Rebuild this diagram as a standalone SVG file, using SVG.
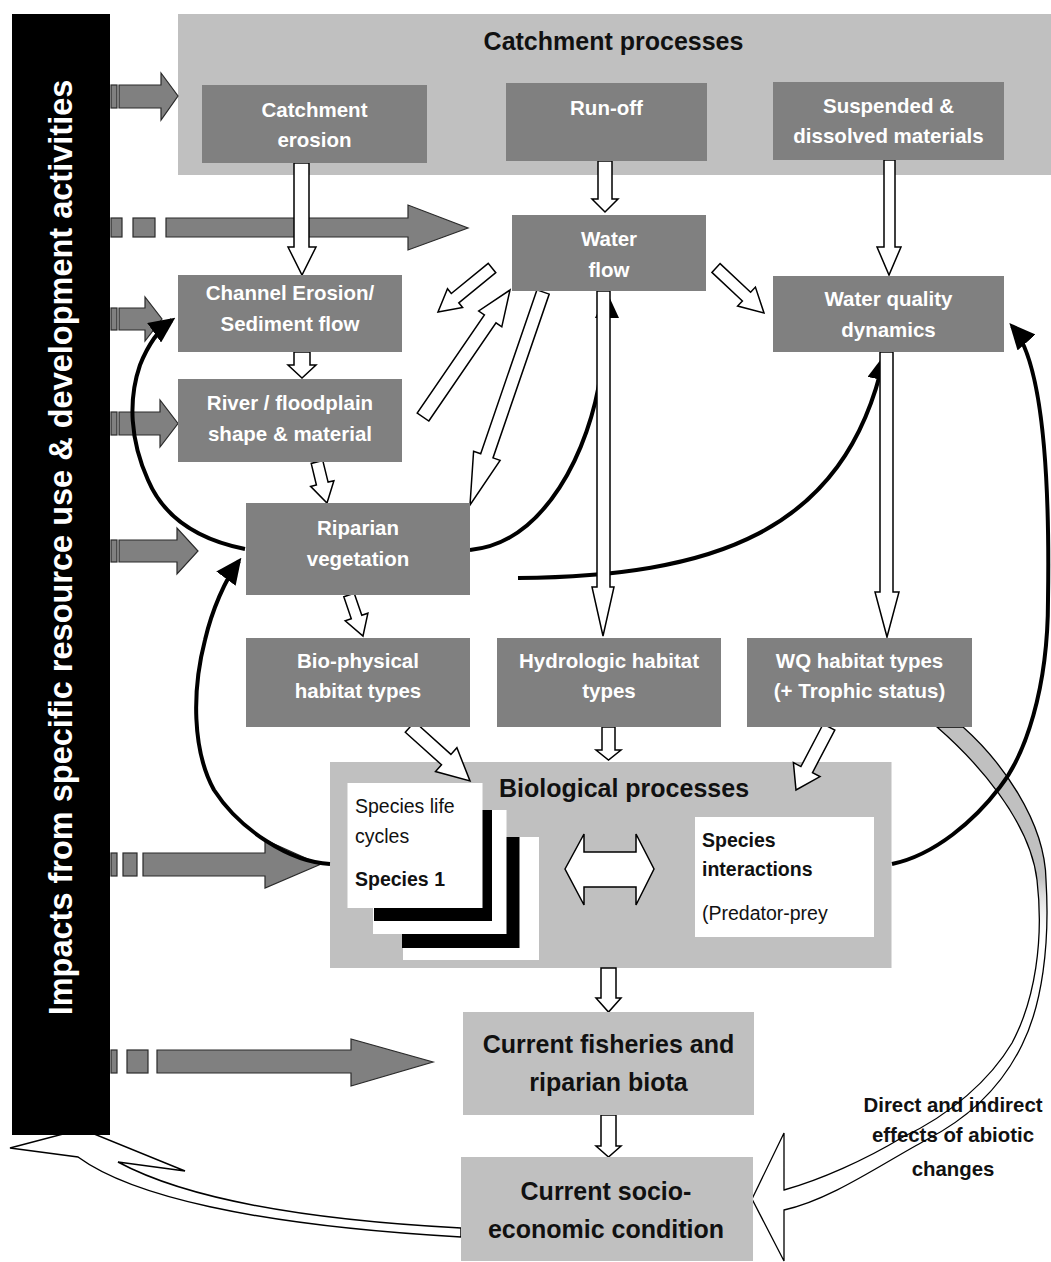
<svg xmlns="http://www.w3.org/2000/svg" width="1051" height="1262" viewBox="0 0 1051 1262">
<defs>
<style>
.lg{fill:#c0c0c0}
.dg{fill:#808080}
.wt{font-family:"Liberation Sans",Arial,sans-serif;font-weight:bold;font-size:20.5px;fill:#fff;text-anchor:middle}
.tt{font-family:"Liberation Sans",Arial,sans-serif;font-weight:bold;font-size:25px;fill:#111;text-anchor:middle}
.st{font-family:"Liberation Sans",Arial,sans-serif;font-size:19.5px;fill:#111}
.sb{font-weight:bold}
.lb{font-family:"Liberation Sans",Arial,sans-serif;font-weight:bold;font-size:20.4px;fill:#111;text-anchor:middle}
.ga{fill:#808080;stroke:#2a2a2a;stroke-width:1.2}
.wa{fill:#fff;stroke:#000;stroke-width:1.5;stroke-linejoin:miter}
.bc{fill:none;stroke:#000;stroke-width:4;marker-end:url(#ah)}
</style>
<marker id="ah" viewBox="0 0 26 24" refX="22" refY="12" markerWidth="26" markerHeight="24" markerUnits="userSpaceOnUse" orient="auto">
<path d="M0,0 L26,12 L0,24 Z" fill="#000"/>
</marker>
<linearGradient id="bandfill" gradientUnits="userSpaceOnUse" x1="0" y1="727" x2="0" y2="1000">
<stop offset="0" stop-color="#c0c0c0"/>
<stop offset="0.55" stop-color="#c0c0c0"/>
<stop offset="0.8" stop-color="#ffffff" stop-opacity="0"/>
</linearGradient>
</defs>
<rect width="1051" height="1262" fill="#fff"/>

<g id="catchment-processes">
<rect class="lg" x="178" y="14" width="873" height="161"/>
<text class="tt" x="613.5" y="50">Catchment processes</text>
</g>

<g id="biological-processes">
<rect class="lg" x="330" y="762" width="561.5" height="206"/>
<text class="tt" x="624" y="797">Biological processes</text>
<g id="species-life-cycles">
<rect x="403" y="837" width="136" height="123" fill="#fff"/>
<rect x="402" y="837" width="117.5" height="111" fill="#000"/>
<rect x="373" y="810" width="133.5" height="124" fill="#fff"/>
<rect x="374" y="810" width="118" height="111" fill="#000"/>
<rect x="347.5" y="783" width="135" height="125" fill="#fff"/>
<text class="st" x="355" y="813">Species life</text>
<text class="st" x="355" y="843">cycles</text>
<text class="st sb" x="355" y="886">Species 1</text>
</g>
<g id="species-interactions">
<rect x="695" y="817" width="179" height="120" fill="#fff"/>
<text class="st sb" x="702" y="847">Species</text>
<text class="st sb" x="702" y="876">interactions</text>
<text class="st" x="702" y="920">(Predator-prey</text>
</g>
</g>

<g id="connectors">
<!-- grey impact arrows -->
<rect class="ga" x="111" y="85" width="6" height="23"/>
<polygon class="ga" points="119,85 161,85 161,73 178,96 161,120 161,108 119,108"/>
<rect class="ga" x="111" y="218" width="11" height="19"/>
<rect class="ga" x="133" y="218" width="22" height="19"/>
<polygon class="ga" points="166,218 408,218 408,205 468,228 408,250 408,237 166,237"/>
<rect class="ga" x="111" y="308" width="6" height="22"/>
<polygon class="ga" points="119,308 145,308 145,297 162,319 145,341 145,330 119,330"/>
<rect class="ga" x="111" y="412" width="6" height="23"/>
<polygon class="ga" points="119,412 160,412 160,400 178,423.5 160,447 160,435 119,435"/>
<rect class="ga" x="111" y="540" width="6" height="22"/>
<polygon class="ga" points="119,540 177,540 177,528 198,551 177,574 177,562 119,562"/>
<rect class="ga" x="111" y="853" width="6" height="23"/>
<rect class="ga" x="123" y="853" width="14" height="23"/>
<polygon class="ga" points="143,853 265,853 265,840 320,864.5 265,888 265,876 143,876"/>
<rect class="ga" x="111" y="1050" width="6" height="23"/>
<rect class="ga" x="127" y="1050" width="21" height="23"/>
<polygon class="ga" points="157,1050 351,1050 351,1039 433,1062 351,1086 351,1073 157,1073"/>

<!-- socio-economic back to impacts -->
<path class="wa" d="M10,1148 L82,1129 L185,1171 L118,1162 C170,1190 270,1218 461,1228 L461,1237 C250,1225 130,1195 78,1157 Z"/>

<!-- abiotic effects band -->
<text class="lb" x="953" y="1112">Direct and indirect</text>
<text class="lb" x="953" y="1142">effects of abiotic</text>
<text class="lb" x="953" y="1176">changes</text>
<path d="M937,727 C975,760 1030,820 1037,880 C1044,940 1035,1000 1012,1043 C990,1080 950,1115 903,1137 C865,1160 820,1180 784,1190 L784,1133 L752,1199 L784,1261 L784,1210 C830,1200 880,1165 926,1140 C965,1120 1000,1090 1022,1045 C1042,1005 1050,945 1046,880 C1045,820 1000,760 963,727 Z" fill="url(#bandfill)" stroke="#000" stroke-width="1.3"/>

<!-- black feedback curves -->
<path class="bc" d="M470,550 C545,543 590,450 601,372 C605,345 607,330 607,296"/>
<path class="bc" d="M518,578 C710,576 845,535 884,358"/>
<path class="bc" d="M245,549 C200,540 165,520 148,480 C130,440 128,400 140,365 C148,345 158,330 172,320"/>
<path class="bc" d="M330,864 C290,862 240,830 214,790 C192,750 192,690 205,640 C212,610 225,580 239,561"/>
<path class="bc" d="M892,864 C935,855 975,820 1000,787 C1025,755 1048,690 1048,600 C1050,470 1042,360 1012,326"/>

<!-- white flow arrows -->
<polygon class="wa" points="294,163 309,163 309,247 316,247 302,275 288,247 294,247"/>
<polygon class="wa" points="294,352 310,352 310,365 316,365 302,378 288,365 294,365"/>
<polygon class="wa" points="598,161 612,161 612,199 618,199 605,212 592,199 598,199"/>
<polygon class="wa" points="884,160 895,160 895,247 901,247 889,275 877,247 884,247"/>
<polygon class="wa" points="597,291 610,291 610,587 614,587 603,636 592,587 597,587"/>
<polygon class="wa" points="880,352 893,352 893,592 899,592 887,637 875,592 880,592"/>
<polygon class="wa" points="602,727 615,727 615,750 621,750 608.5,760 596,750 602,750"/>
<polygon class="wa" points="601,968 616,968 616,998 621,998 608.5,1012 596,998 601,998"/>
<polygon class="wa" points="601,1115 616,1115 616,1146 621,1146 608.5,1157 596,1146 601,1146"/>
<polygon class="wa" points="488.2,263.4 451.3,293.5 447.5,288.8 438,312 462.6,307.4 458.8,302.8 495.8,272.7"/>
<polygon class="wa" points="428.8,421 496,322.9 501.8,326.8 510,290 478.7,311 484.4,314.9 417.2,413"/>
<polygon class="wa" points="536.9,289.9 480.7,453.7 473.6,451.3 470,505 500.1,460.3 493,457.9 549.2,294.1"/>
<polygon class="wa" points="711.9,272.4 742.4,301 737.6,306.1 764,313 755.4,287.1 750.6,292.2 720.1,263.6"/>
<polygon class="wa" points="311.2,463.4 316.4,485 310.6,486.4 327,503 333.9,480.7 328.1,482.1 322.8,460.6"/>
<polygon class="wa" points="343.8,596.8 351.3,618.8 345.2,620.9 363,636 367.9,613.2 361.8,615.3 354.2,593.2"/>
<polygon class="wa" points="405.3,732.2 441.5,764.8 435.5,771.5 470,781 456.9,747.7 450.9,754.4 414.7,721.8"/>
<polygon class="wa" points="823.2,724 800.9,766.6 793.4,762.6 796,790 820,776.6 812.5,772.6 834.8,730"/>
<polygon class="wa" points="565,869 584,834 584,852 636,852 636,834 654,869 636,905 636,887 584,887 584,905"/>
</g>

<g id="impacts">
<rect x="12" y="14" width="98" height="1121" fill="#000"/>
<text transform="translate(72,547.5) rotate(-90)" x="0" y="0" font-family="'Liberation Sans',Arial,sans-serif" font-weight="bold" font-size="32.5" fill="#fff" text-anchor="middle">Impacts from specific resource use &amp; development activities</text>
</g>

<g id="catchment-erosion">
<rect class="dg" x="202" y="85" width="225" height="78"/>
<text class="wt" x="314.5" y="117">Catchment</text>
<text class="wt" x="314.5" y="147">erosion</text>
</g>
<g id="run-off">
<rect class="dg" x="506" y="83" width="201" height="78"/>
<text class="wt" x="606.5" y="115">Run-off</text>
</g>
<g id="suspended-dissolved">
<rect class="dg" x="773" y="82" width="231" height="78"/>
<text class="wt" x="888.5" y="113">Suspended &amp;</text>
<text class="wt" x="888.5" y="143">dissolved materials</text>
</g>
<g id="water-flow">
<rect class="dg" x="512" y="215" width="194" height="76"/>
<text class="wt" x="609" y="246">Water</text>
<text class="wt" x="609" y="277">flow</text>
</g>
<g id="channel-erosion">
<rect class="dg" x="178" y="275" width="224" height="77"/>
<text class="wt" x="290" y="300">Channel Erosion/</text>
<text class="wt" x="290" y="331">Sediment flow</text>
</g>
<g id="river-floodplain">
<rect class="dg" x="178" y="379" width="224" height="83"/>
<text class="wt" x="290" y="410">River / floodplain</text>
<text class="wt" x="290" y="441">shape &amp; material</text>
</g>
<g id="water-quality-dynamics">
<rect class="dg" x="773" y="276" width="231" height="76"/>
<text class="wt" x="888.5" y="306">Water quality</text>
<text class="wt" x="888.5" y="337">dynamics</text>
</g>
<g id="riparian-vegetation">
<rect class="dg" x="246" y="503" width="224" height="92"/>
<text class="wt" x="358" y="535">Riparian</text>
<text class="wt" x="358" y="566">vegetation</text>
</g>
<g id="bio-physical-habitat">
<rect class="dg" x="246" y="638" width="224" height="89"/>
<text class="wt" x="358" y="668">Bio-physical</text>
<text class="wt" x="358" y="698">habitat types</text>
</g>
<g id="hydrologic-habitat">
<rect class="dg" x="497" y="638" width="224" height="89"/>
<text class="wt" x="609" y="668">Hydrologic habitat</text>
<text class="wt" x="609" y="698">types</text>
</g>
<g id="wq-habitat">
<rect class="dg" x="747" y="638" width="225" height="89"/>
<text class="wt" x="859.5" y="668">WQ habitat types</text>
<text class="wt" x="859.5" y="698">(+ Trophic status)</text>
</g>
<g id="current-fisheries">
<rect class="lg" x="463" y="1012" width="291" height="103"/>
<text class="tt" x="608.5" y="1053">Current fisheries and</text>
<text class="tt" x="608.5" y="1091">riparian biota</text>
</g>
<g id="socio-economic">
<rect class="lg" x="461" y="1157" width="292" height="104"/>
<text class="tt" x="606" y="1200">Current socio-</text>
<text class="tt" x="606" y="1238">economic condition</text>
</g>
</svg>
